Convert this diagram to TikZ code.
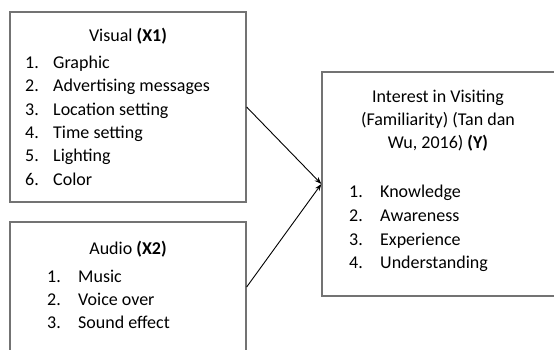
\documentclass[tikz,border=0pt]{standalone}
\usepackage{fontspec}
\setmainfont{Carlito}
\usetikzlibrary{arrows.meta}
\begin{document}
\begin{tikzpicture}[x=1pt,y=-1pt,
  box/.style={draw=black!55,line width=1.3pt,rectangle,inner sep=0pt},
  txt/.style={inner sep=0pt,anchor=base west,font=\fontsize{18}{23}\selectfont},
  ttl/.style={inner sep=0pt,anchor=base,font=\fontsize{18}{23}\selectfont},
  conn/.style={draw=black,line width=0.9pt,-{Stealth[length=7pt,width=5pt]}}]
\useasboundingbox (0,0) rectangle (554,349);
\node[box,minimum width=236pt,minimum height=190pt] (vis) at (128,107) {};
\node[box,minimum width=236pt,minimum height=130pt] (aud) at (128,287) {};
\node[box,minimum width=240pt,minimum height=224pt] (int) at (442,184) {};
% Visual
\node[ttl] (vt) at (128,41) {Visual \textbf{(X1)}};
\node[txt] (vn1) at (25,68) {1.};   \node[txt] (vi1) at (53,68) {Graphic};
\node[txt] (vn2) at (25,91.5) {2.}; \node[txt] (vi2) at (53,91.5) {Advertising messages};
\node[txt] (vn3) at (25,115) {3.};  \node[txt] (vi3) at (53,115) {Location setting};
\node[txt] (vn4) at (25,138) {4.};  \node[txt] (vi4) at (53,138) {Time setting};
\node[txt] (vn5) at (25,161.5) {5.};\node[txt] (vi5) at (53,161.5) {Lighting};
\node[txt] (vn6) at (25,185) {6.};  \node[txt] (vi6) at (53,185) {Color};
% Audio
\node[ttl] (at) at (128,254) {Audio \textbf{(X2)}};
\node[txt] (an1) at (47,282) {1.}; \node[txt] (ai1) at (78,282) {Music};
\node[txt] (an2) at (47,305) {2.}; \node[txt] (ai2) at (78,305) {Voice over};
\node[txt] (an3) at (47,328) {3.}; \node[txt] (ai3) at (78,328) {Sound effect};
% Interest
\node[ttl] (it1) at (438,102) {Interest in Visiting};
\node[ttl] (it2) at (438,125) {(Familiarity) (Tan dan};
\node[ttl] (it3) at (438,148) {Wu, 2016) \textbf{(Y)}};
\node[txt] (in1) at (349,197) {1.}; \node[txt] (ii1) at (380,197) {Knowledge};
\node[txt] (in2) at (349,221) {2.}; \node[txt] (ii2) at (380,221) {Awareness};
\node[txt] (in3) at (349,245) {3.}; \node[txt] (ii3) at (380,245) {Experience};
\node[txt] (in4) at (349,268) {4.}; \node[txt] (ii4) at (380,268) {Understanding};
% connectors
\draw[conn] (vis.east) -- (int.west);
\draw[conn] (aud.east) -- (int.west);
\end{tikzpicture}
\end{document}
